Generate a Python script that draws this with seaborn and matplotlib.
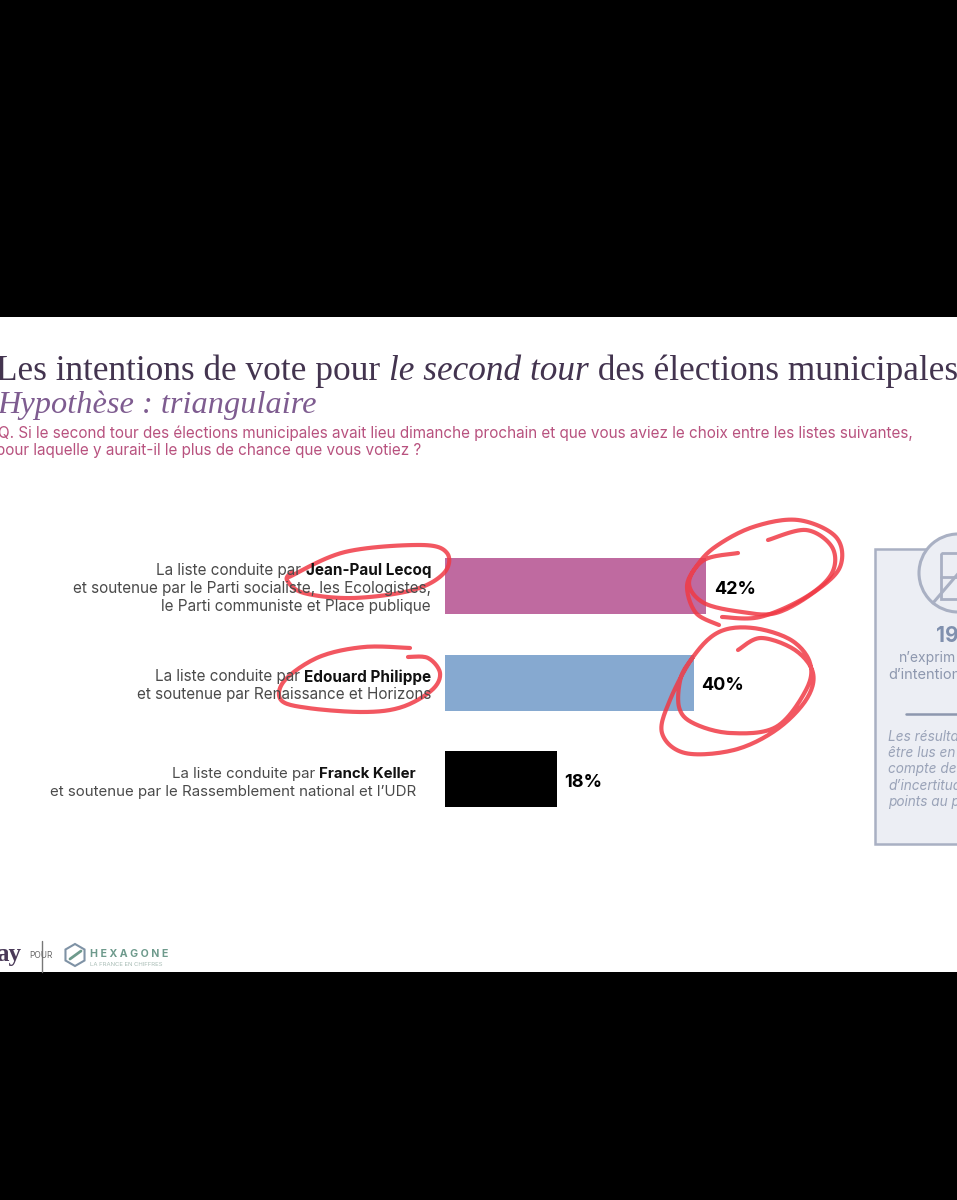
import numpy as np
import pandas as pd
import matplotlib
matplotlib.use("Agg")
import matplotlib.pyplot as plt
from matplotlib.patches import Rectangle, Circle, RegularPolygon
import seaborn as sns

categories = ["Jean-Paul Lecoq", "Edouard Philippe", "Franck Keller"]
values = [42, 40, 18]
colors = ["#BF6AA0", "#86A9D0", "#000000"]
label_lines = [
    [[("La liste conduite par ", False), ("Jean-Paul Lecoq", True)],
     [("et soutenue par le Parti socialiste, les Ecologistes,", False)],
     [("le Parti communiste et Place publique", False)]],
    [[("La liste conduite par ", False), ("Edouard Philippe", True)],
     [("et soutenue par Renaissance et Horizons", False)]],
    [[("La liste conduite par ", False), ("Franck Keller", True)],
     [("et soutenue par le Rassemblement national et l’UDR", False)]],
]

W, H = 957, 1200
sns.set_theme(style="white")
plt.rcParams["font.family"] = ["DejaVu Sans"]
fig = plt.figure(figsize=(W / 100, H / 100), dpi=100, facecolor="black")

def overlay(z):
    a = fig.add_axes([0, 0, 1, 1], zorder=z)
    a.set_xlim(0, W)
    a.set_ylim(H, 0)
    a.axis("off")
    return a

bg = overlay(0)
fg = overlay(2)
bg.add_patch(Rectangle((0, 317), W, 655, fc="white", ec="none"))

# bar chart
ax = fig.add_axes([445 / W, 1 - 827.5 / H, 310.7 / W, 289.5 / H], zorder=1)
ax.patch.set_alpha(0)
df = pd.DataFrame({"cat": categories, "val": values})
sns.barplot(data=df, y="cat", x="val", hue="cat", palette=colors, order=categories,
            hue_order=categories, saturation=1, width=0.585, linewidth=0, legend=False, ax=ax)
ax.set_xlim(0, 50)
ax.set_ylim(2.5, -0.5)
ax.axis("off")
for c in ax.containers:
    for t in ax.bar_label(c, fmt="%d%%", padding=5.5, fontsize=13, fontweight="bold",
                          color="black", family="Inter"):
        t.xyann = (t.xyann[0], t.xyann[1] - 2.2)

rend = fig.canvas.get_renderer()

def runs(x, y, parts, ha="left", a=fg, **common):
    """Write consecutive styled runs on one baseline-centred line."""
    objs, widths = [], []
    for text, kw in parts:
        st = dict(common)
        st.update(kw)
        t = a.text(0, y, text, ha="left", va="center", **st)
        widths.append(t.get_window_extent(rend).width)
        objs.append(t)
    total = sum(widths)
    cur = x - total if ha == "right" else x
    for t, w in zip(objs, widths):
        t.set_x(cur)
        cur += w

# titles
sf = "Liberation Serif"
runs(-4, 371, [("Les intentions de vote pour ", {}),
               ("le second tour", {"style": "italic"}),
               (" des élections municipales", {})],
     family=sf, fontsize=25.35, color="#43344F")
fg.text(-3, 405, "Hypothèse : triangulaire", family=sf, style="italic", fontsize=23.3,
        color="#7E5C90", va="center")
qf = "Inter"
fg.text(-2, 433, "Q. Si le second tour des élections municipales avait lieu dimanche prochain et que vous aviez le choix entre les listes suivantes,",
        family=qf, fontsize=11, color="#B8527F", va="center")
fg.text(-4, 450, "pour laquelle y aurait-il le plus de chance que vous votiez ?",
        family=qf, fontsize=11, color="#B8527F", va="center")

# category labels
ys = [[570, 589, 606], [677, 695], [774, 792]]
rights = [431, 431, 416]
sizes = [11, 11, 10.8]
for lines, yy, rx, fs in zip(label_lines, ys, rights, sizes):
    for parts, y in zip(lines, yy):
        runs(rx, y, [(t, {"fontweight": "bold", "color": "#111111"} if b else {"color": "#4A4A4A"})
                     for t, b in parts], ha="right", family=qf, fontsize=fs)

# right panel
bg.add_patch(Rectangle((875, 549), 100, 295, fc="#ECEEF4", ec="#A9B0C3", lw=1.8))
bg.add_patch(Circle((958, 573), 39, fc="#ECEEF4", ec="#A9B0C3", lw=2.2))
bg.add_patch(Rectangle((941, 553), 30, 46, fc="none", ec="#A9B0C3", lw=2))
bg.plot([941, 971], [577, 577], color="#A9B0C3", lw=2)
bg.plot([933, 980], [603, 548], color="#A9B0C3", lw=2.2)
fg.text(936, 636, "19", family=qf, fontweight="bold", fontsize=15, color="#8090AE", va="center")
fg.text(899, 658, "n’exprim", family=qf, fontsize=10, color="#8D97AE", va="center")
fg.text(888, 675, "d’intention", family=qf, fontsize=10.5, color="#8D97AE", va="center")
bg.plot([906, 957], [713.5, 713.5], color="#8D97AE", lw=1.8)
for y, s in zip([737, 753, 769, 786, 802],
                ["Les résultats", "être lus en", "compte de", "d’incertitude", "points au p"]):
    fg.text(888, y, s, family=qf, style="italic", fontsize=9.8, color="#9AA3B8", va="center")

# footer
fg.text(-4, 954, "ay", family=sf, fontweight="bold", fontsize=18, color="#4A3A58", va="center")
fg.text(29, 956, "POUR", family=qf, fontsize=6, color="#666666", va="center")
bg.plot([42, 42], [941, 972], color="#777777", lw=1)
bg.add_patch(RegularPolygon((75, 955), 6, radius=11, fc="none", ec="#7F92A5", lw=1.5))
bg.plot([70, 81], [959, 951], color="#6E9A8C", lw=2)
fg.text(90, 954, "H E X A G O N E", family=qf, fontweight="bold", fontsize=7.6, color="#6E9A8C",
        va="center")
fg.text(90, 964, "LA FRANCE EN CHIFFRES", family=qf, fontsize=4.3, color="#A9BDB6", va="center")

# hand-drawn red circles (annotations)
strokes = [
    [(289, 577), (345, 552), (421, 545), (447, 553), (444, 573), (413, 590), (353, 598), (304, 593), (287, 580), (292, 572)],
    [(410, 648), (364, 647), (319, 657), (285, 680), (281, 700), (308, 708), (364, 712), (402, 707), (432, 690), (440, 673), (428, 658), (408, 657)],
    [(738, 553), (704, 560), (689, 583), (704, 603), (742, 612), (776, 613), (813, 593), (840, 567), (836, 537), (798, 520), (753, 527), (715, 547), (696, 567), (687, 587), (696, 613), (719, 625)],
    [(768, 540), (806, 530), (832, 547), (832, 573), (806, 597), (760, 617), (722, 617)],
    [(738, 650), (761, 638), (795, 650), (813, 673), (806, 700), (776, 730), (734, 750), (685, 753), (662, 733), (670, 700), (693, 657), (719, 632), (753, 628), (791, 640), (810, 663), (806, 690), (776, 727), (730, 733), (693, 723), (679, 707), (681, 677), (693, 657)],
]

def smooth(pts, n=14):
    p = np.array([pts[0]] + list(pts) + [pts[-1]], float)
    out = []
    for i in range(1, len(p) - 2):
        for t in np.linspace(0, 1, n, endpoint=False):
            out.append(0.5 * (2 * p[i] + (p[i + 1] - p[i - 1]) * t
                              + (2 * p[i - 1] - 5 * p[i] + 4 * p[i + 1] - p[i + 2]) * t ** 2
                              + (3 * p[i] - p[i - 1] - 3 * p[i + 1] + p[i + 2]) * t ** 3))
    out.append(p[-2])
    return np.array(out)

for s in strokes:
    xy = smooth(s)
    fg.plot(xy[:, 0], xy[:, 1], color="#F03A45", lw=3, alpha=0.85,
            solid_capstyle="round", solid_joinstyle="round")

fig.savefig("out.png", dpi=100, facecolor="black")
